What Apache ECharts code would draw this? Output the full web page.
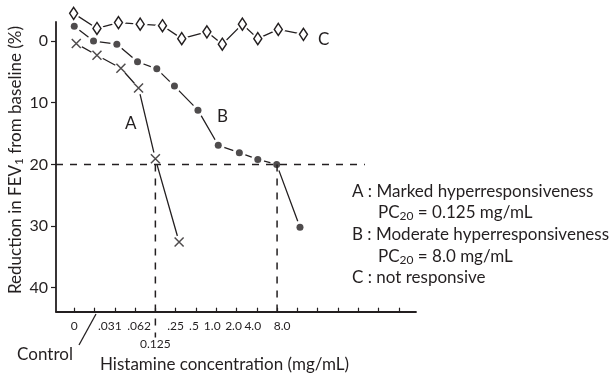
<!DOCTYPE html>
<html>
<head>
<meta charset="utf-8">
<script src="https://cdn.jsdelivr.net/npm/echarts@6/dist/echarts.min.js"></script>
<style>
  html, body { margin: 0; padding: 0; background: #fff; }
  #chart { width: 612px; height: 377px; }
</style>
</head>
<body>
<div id="chart"></div>
<script>
// Dose steps on the x axis (position index -> concentration label)
const tickPositions = [0, 1, 2, 3, 4, 5, 6, 7, 8, 9, 10, 11, 12, 13, 14, 15, 16];
const tickLabels = ['0', '', '.031', '.062', '0.125', '.25', '.5', '1.0', '2.0', '4.0', '8.0'];
const yTicks = [0, 10, 20, 30, 40];

// A: marked hyperresponsiveness  [dose position, % fall in FEV1]
const seriesA = [[0.1, 0.4], [1.12, 2.3], [2.3, 4.4], [3.17, 7.6], [4.0, 19.1], [5.17, 32.6]];
// B: moderate hyperresponsiveness
const seriesB = [[0, -2.4], [0.95, 0], [2.1, 0.5], [3.12, 3.35], [4.07, 4.5], [4.94, 7.3],
                 [6.1, 11.2], [7.1, 16.9], [8.14, 18.1], [9.05, 19.2], [9.98, 20.0], [11.13, 30.2]];
// C: not responsive
const seriesC = [[-0.03, -4.5], [1.12, -2.05], [2.18, -3.0], [3.25, -2.75], [4.35, -2.5], [5.3, -0.4],
                 [6.54, -1.5], [7.3, 0.5], [8.29, -2.75], [9.05, -0.4], [10.06, -1.9], [11.3, -1.1]];

// PC20 threshold and the doses where A and B cross it
const pc20Level = 20;
const pc20A = 4.0;
const pc20B = 10.0;

const FONT = 'Lato, "Open Sans", sans-serif';
const INK = '#231f20';
const FS = 17;

// small horizontal nudges (px) for the dose labels, and the dropped 0.125 label
const labelNudge = [0, 0, -5, 4, 0, 0, -2, -4, -3, -4, 5];
const labelRich = {};
labelNudge.forEach((s, i) => {
  labelRich['r' + i] = {
    fontSize: 12, fontFamily: FONT, color: INK,
    padding: [i === pc20A ? 18 : 0, s < 0 ? -2 * s : 0, 0, s > 0 ? 2 * s : 0]
  };
});

const chart = echarts.init(document.getElementById('chart'), null, { renderer: 'canvas' });

const crossPath = 'path://M0,0L10,10M10,0L0,10';

function lineSeries(data) {
  return { type: 'line', data, symbol: 'none', clip: false, z: 2, silent: true,
           lineStyle: { color: INK, width: 1.3 } };
}
function haloSeries(data, symbol, size) {
  return { type: 'scatter', data, symbol, symbolSize: size, clip: false, z: 3, silent: true,
           itemStyle: { color: '#fff', opacity: 1 } };
}
function label(text, x, y, extra) {
  return Object.assign({ type: 'text', x, y, z: 10,
    style: { text, fontSize: FS, fontFamily: FONT, fill: INK, verticalAlign: 'middle' } }, extra || {});
}
const subRich = {
  a: { fontSize: FS, fontFamily: FONT, fill: INK },
  s: { fontSize: 12, fontFamily: FONT, fill: INK, verticalAlign: 'bottom', padding: [7, 0, 0, 0] }
};

const option = {
  animation: false,
  backgroundColor: '#fff',
  grid: { left: 56, right: 196, top: 22, bottom: 65.3 },
  xAxis: {
    type: 'value', min: -0.9, max: 16.85,
    axisLine: { onZero: false, lineStyle: { color: INK, width: 1.8 } },
    axisTick: { customValues: tickPositions, inside: true, length: 4, lineStyle: { color: INK, width: 1.2 } },
    axisLabel: {
      customValues: tickLabels.map((t, i) => i).filter(i => tickLabels[i] !== ''),
      formatter: v => {
        const i = Math.round(v);
        return '{r' + i + '|' + (tickLabels[i] || '') + '}';
      },
      margin: 8, color: INK, fontSize: 12, fontFamily: FONT,
      rich: labelRich
    },
    splitLine: { show: false }
  },
  yAxis: {
    type: 'value', min: -3.1, max: 43.9, inverse: true,
    axisLine: { onZero: false, lineStyle: { color: INK, width: 1.8 } },
    axisTick: { customValues: yTicks, length: 5, lineStyle: { color: INK, width: 1.2 } },
    axisLabel: { customValues: yTicks, margin: 8, color: INK, fontSize: 16, fontFamily: FONT },
    splitLine: { show: false }
  },
  series: [
    lineSeries(seriesA),
    lineSeries(seriesB),
    lineSeries(seriesC),
    haloSeries(seriesA, 'circle', 13),
    haloSeries(seriesB, 'circle', 13),
    haloSeries(seriesC, 'diamond', [15, 20]),
    // PC20 reference lines
    { type: 'line', data: [[-0.9, pc20Level], [14.33, pc20Level]], symbol: 'none', clip: false, z: 4,
      lineStyle: { color: INK, width: 1.5, type: [7, 7] }, silent: true },
    { type: 'line', data: [[pc20A, pc20Level], [pc20A, 48.1]], symbol: 'none', clip: false, z: 4,
      lineStyle: { color: INK, width: 1.5, type: [7, 7] }, silent: true },
    { type: 'line', data: [[pc20B, pc20Level], [pc20B, 43.9]], symbol: 'none', clip: false, z: 4,
      lineStyle: { color: INK, width: 1.5, type: [7, 7] }, silent: true },
    // markers
    { type: 'scatter', data: seriesA, symbol: crossPath, symbolSize: 9, clip: false, z: 5,
      itemStyle: { color: 'none', borderColor: INK, borderWidth: 1.5 } },
    { type: 'scatter', data: seriesB, symbol: 'circle', symbolSize: 7, clip: false, z: 5,
      itemStyle: { color: INK } },
    { type: 'scatter', data: seriesC, symbol: 'diamond', symbolSize: [8, 12], clip: false, z: 5,
      itemStyle: { color: '#fff', borderColor: INK, borderWidth: 1.5, opacity: 1 } }
  ],
  graphic: [
    // y axis title
    { type: 'text', x: 16, y: 160, rotation: Math.PI / 2, z: 10,
      style: { text: '{a|Reduction in FEV}{s|1}{a| from baseline (%)}', align: 'center', verticalAlign: 'middle', rich: subRich } },
    // x axis title
    label('Histamine concentration (mg/mL)', 100, 365),
    // control marker
    { type: 'line', z: 10, shape: { x1: 96, y1: 314, x2: 79, y2: 345 }, style: { stroke: INK, lineWidth: 1.3 } },
    label('Control', 45, 355, { style: { text: 'Control', fontSize: FS, fontFamily: FONT, fill: INK, align: 'center', verticalAlign: 'middle' } }),
    // curve labels
    label('A', 125, 124),
    label('B', 217, 117),
    label('C', 318, 40),
    // key
    label('A : Marked hyperresponsiveness', 352, 192),
    { type: 'text', x: 378, y: 213, z: 10,
      style: { text: '{a|PC}{s|20}{a| = 0.125 mg/mL}', verticalAlign: 'middle', rich: subRich } },
    label('B : Moderate hyperresponsiveness', 352, 235),
    { type: 'text', x: 378, y: 257, z: 10,
      style: { text: '{a|PC}{s|20}{a| = 8.0 mg/mL}', verticalAlign: 'middle', rich: subRich } },
    label('C : not responsive', 352, 278)
  ]
};

chart.setOption(option);
</script>
</body>
</html>
